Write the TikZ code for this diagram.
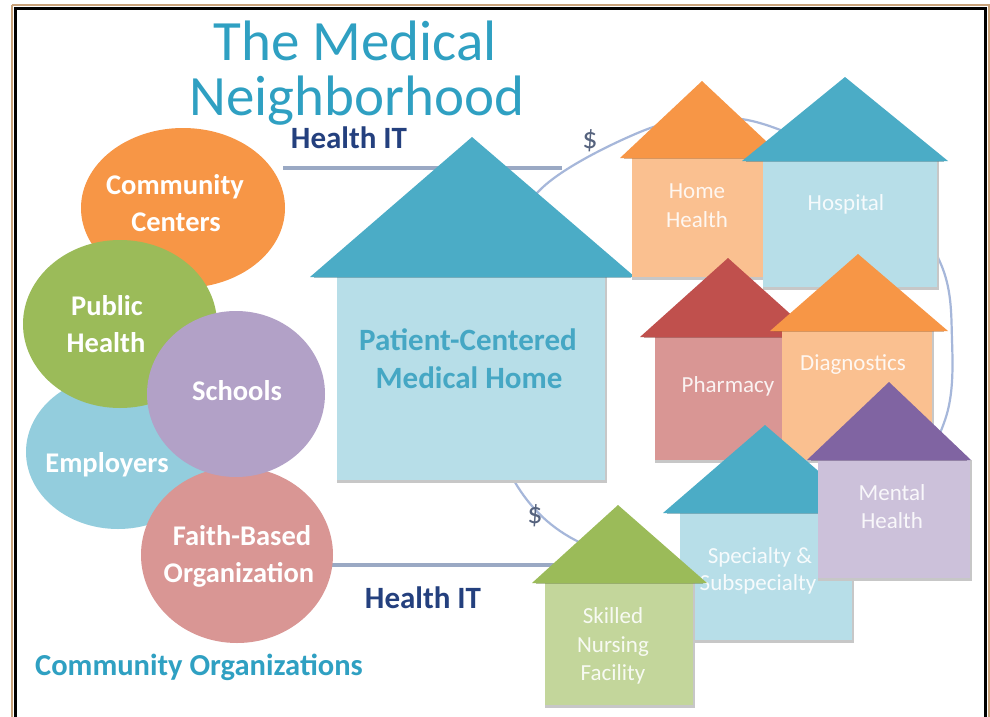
\documentclass[tikz,border=0pt]{standalone}
\usepackage{fontspec}
\setmainfont{Carlito}
\definecolor{tealroof}{HTML}{4BACC6}
\definecolor{tealbody}{HTML}{B7DEE8}
\definecolor{orangeroof}{HTML}{F79646}
\definecolor{orangebody}{HTML}{FAC090}
\definecolor{redroof}{HTML}{C0504D}
\definecolor{redbody}{HTML}{D99694}
\definecolor{purproof}{HTML}{8064A2}
\definecolor{purpbody}{HTML}{CCC1DA}
\definecolor{greenroof}{HTML}{9BBB59}
\definecolor{greenbody}{HTML}{C3D69B}
\definecolor{ccorange}{HTML}{F79646}
\definecolor{phgreen}{HTML}{9BBB59}
\definecolor{schpurple}{HTML}{B2A1C7}
\definecolor{empblue}{HTML}{93CDDD}
\definecolor{faithpink}{HTML}{D99694}
\definecolor{titleteal}{HTML}{2FA0C2}
\definecolor{hitnavy}{HTML}{24407E}
\definecolor{pcmhtext}{HTML}{45A7C4}
\definecolor{dollar}{HTML}{56637E}
\definecolor{ovalline}{HTML}{A6B7DA}
\definecolor{hitline}{HTML}{9AA9C4}
\definecolor{framebrown}{HTML}{C8A27A}
\newcommand\drawhouse[9]{%
  \fill[black!22] (#6,#2) rectangle (#7+2,#8+3);
  \fill[#9body] (#6,#2) rectangle (#7,#8);
  \fill[#9roof] (#1,#2) -- (#3,#4) -- (#5,#2) -- cycle;
  \draw[#9roof!70!black, line width=1.5, opacity=0.45] (#1+4,#2+0.5) -- (#5-4,#2+0.5);
}
\begin{document}
\begin{tikzpicture}[x=1pt,y=-1pt,
  titletext/.style={font=\fontsize{57}{57}\selectfont, text=titleteal, anchor=base, inner sep=0, text depth=0pt},
  circlab/.style={font=\bfseries\fontsize{28.5}{28.5}\selectfont, text=white, anchor=base, inner sep=0},
  houselab/.style={font=\fontsize{23}{23}\selectfont, text=white, text opacity=0.88, anchor=base, inner sep=0},
  hitlab/.style={font=\bfseries\fontsize{31}{31}\selectfont, text=hitnavy, anchor=base, inner sep=0},
  pcmhlab/.style={font=\bfseries\fontsize{31}{31}\selectfont, text=pcmhtext, anchor=base, inner sep=0},
  dollarlab/.style={font=\fontsize{30}{30}\selectfont, text=dollar, anchor=base, inner sep=0},
  itline/.style={draw=hitline, line width=3.5},
]
\useasboundingbox (0,0) rectangle (990,717);
\fill[white] (0,0) rectangle (990,717);
% frame
\draw[framebrown, line width=2] (12,5) -- (988.5,5) -- (988.5,730);
\draw[framebrown, line width=2] (12,5) -- (12,730);
\draw[black, line width=2.5] (15.5,8.5) rectangle (985.5,730);

% title
\node[titletext] (t1) at (355,61) {The Medical};
\node[titletext] (t2) at (357,115) {Neighborhood};

% oval around the neighbours
\draw[ovalline, line width=2.2] plot[smooth cycle, tension=0.6] coordinates {(542,188) (640,132) (710,118) (775,128) (880,180) (940,262) (952,340) (945,420) (900,490) (800,545) (680,565) (575,540) (512,477) (488,380) (505,260)};

% Health IT lines
\coordinate (itTopA) at (283,168);
\coordinate (itTopB) at (562,168);
\coordinate (itBotA) at (330,565);
\coordinate (itBotB) at (580,565);
\draw[itline] (itTopA) -- (itTopB);
\draw[itline] (itBotA) -- (itBotB);
\node[hitlab] (hit1) at (349,148) {Health IT};
\node[hitlab] (hit2) at (423,608) {Health IT};
\node[dollarlab] (d1) at (590,148) {\$};
\node[dollarlab] (d2) at (535,523) {\$};

% community circles
\fill[ccorange] (183,208) ellipse [x radius=102, y radius=80];
\fill[empblue] (118,452) ellipse [x radius=92, y radius=77];
\fill[phgreen] (120,324) ellipse [x radius=97, y radius=84];
\fill[faithpink] (237,555) ellipse [x radius=96, y radius=88];
\fill[schpurple] (236,394) ellipse [x radius=89, y radius=83];
\node[circlab] (cc1) at (175,194) {Community};
\node[circlab] (cc2) at (176,231) {Centers};
\node[circlab] (ph1) at (107,315) {Public};
\node[circlab] (ph2) at (106,352) {Health};
\node[circlab] (sch) at (237,400) {Schools};
\node[circlab] (emp) at (107,472) {Employers};
\node[circlab] (fb1) at (242,545) {Faith-Based};
\node[circlab] (fb2) at (239,582) {Organization};
\node[font=\bfseries\fontsize{30.5}{30.5}\selectfont, text=titleteal, anchor=base west, inner sep=0] (co) at (35,675) {Community Organizations};

% Patient-Centered Medical Home
\drawhouse{310}{277}{472}{137}{635}{337}{605}{480}{teal}
\node[pcmhlab] (pc1) at (468,350) {Patient-Centered};
\node[pcmhlab] (pc2) at (469,388) {Medical Home};

% neighbours
\drawhouse{620}{158}{702}{81}{784}{632}{775}{277}{orange}
\node[houselab] (hh1) at (697,198) {Home};
\node[houselab] (hh2) at (697,227) {Health};
\drawhouse{742}{161}{845}{77}{948}{763}{937}{287}{teal}
\node[houselab] (hos) at (846,210) {Hospital};
\drawhouse{640}{337}{728}{258}{816}{655}{800}{460}{red}
\node[houselab] (pha) at (728,392) {Pharmacy};
\drawhouse{770}{331}{858}{254}{948}{782}{932}{460}{orange}
\node[houselab] (dia) at (853,370) {Diagnostics};
\drawhouse{663}{513}{765}{425}{867}{680}{852}{640}{teal}
\node[houselab] (sp1) at (760,563) {Specialty \&};
\node[houselab] (sp2) at (758,590) {Subspecialty};
\drawhouse{807}{460}{889}{382}{971}{818}{970}{578}{purp}
\node[houselab] (mh1) at (892,500) {Mental};
\node[houselab] (mh2) at (892,528) {Health};
\drawhouse{532}{583}{618}{505}{707}{545}{693}{705}{green}
\node[houselab] (sn1) at (613,623) {Skilled};
\node[houselab] (sn2) at (613,652) {Nursing};
\node[houselab] (sn3) at (613,680) {Facility};
\end{tikzpicture}
\end{document}
